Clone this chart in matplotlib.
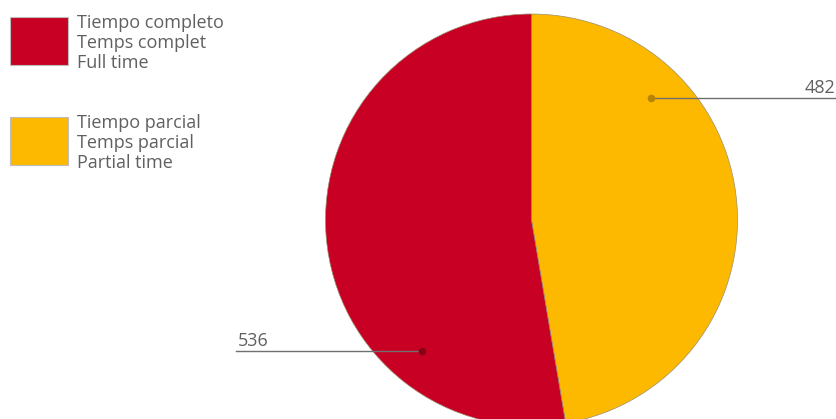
import numpy as np
import matplotlib
matplotlib.use("Agg")
import matplotlib.pyplot as plt
from matplotlib.patches import Rectangle

# Data
labels_es = ["Tiempo parcial", "Tiempo completo"]
labels_ca = ["Temps parcial", "Temps complet"]
labels_en = ["Partial time", "Full time"]
values = [482, 536]
colors = ["#FDB900", "#C80023"]
dot_colors = ["#B88300", "#8A0016"]

W, H = 836, 419
plt.rcParams['font.family'] = ['Open Sans', 'DejaVu Sans']
fig = plt.figure(figsize=(W / 100, H / 100), dpi=100)
ax = fig.add_axes([0, 0, 1, 1])
ax.set_xlim(0, W)
ax.set_ylim(0, H)
ax.set_aspect('equal')
ax.axis('off')

def Y(y):
    return H - y

cx, cy, r = 531.5, Y(220), 206
wedges, _ = ax.pie(values, colors=colors, startangle=90, counterclock=False,
                   center=(cx, cy), radius=r, frame=True,
                   wedgeprops=dict(edgecolor="#9a8f70", linewidth=0.5))
ax.set_xlim(0, W)
ax.set_ylim(0, H)
ax.axis('off')

txt_color = "#606060"
fs = 13.0
# value labels with leader lines
for i, w in enumerate(wedges):
    t1, t2 = w.theta1, w.theta2
    ang = np.deg2rad(t2 - 0.26 * (t2 - t1))
    px = cx + 0.83 * r * np.cos(ang)
    py = cy + 0.83 * r * np.sin(ang)
    if np.cos(ang) >= 0:
        xe = 835
        ax.plot([px, xe], [py, py], color="#707070", lw=1.0, zorder=3)
        ax.text(xe, py + 5, str(values[i]), ha='right', va='baseline',
                color=txt_color, fontsize=fs)
    else:
        xe = 236
        ax.plot([xe, px], [py, py], color="#707070", lw=1.0, zorder=3)
        ax.text(xe + 2, py + 5, str(values[i]), ha='left', va='baseline',
                color=txt_color, fontsize=fs)
    ax.plot([px], [py], 'o', ms=4.5, color=dot_colors[i], zorder=4)

# legend (full time first, then partial time)
legend_order = [1, 0]
rect_tops = [17, 117.5]
baselines = [[28.5, 48.5, 68.5], [128.5, 148.5, 168]]
for k, idx in enumerate(legend_order):
    top = rect_tops[k]
    ax.add_patch(Rectangle((10, Y(top + 48)), 58, 48, facecolor=colors[idx],
                           edgecolor="#bdbdbd", lw=0.8))
    for j, t in enumerate([labels_es[idx], labels_ca[idx], labels_en[idx]]):
        ax.text(77, Y(baselines[k][j]), t, ha='left', va='baseline',
                color=txt_color, fontsize=fs)

fig.savefig("out.png", dpi=100)
